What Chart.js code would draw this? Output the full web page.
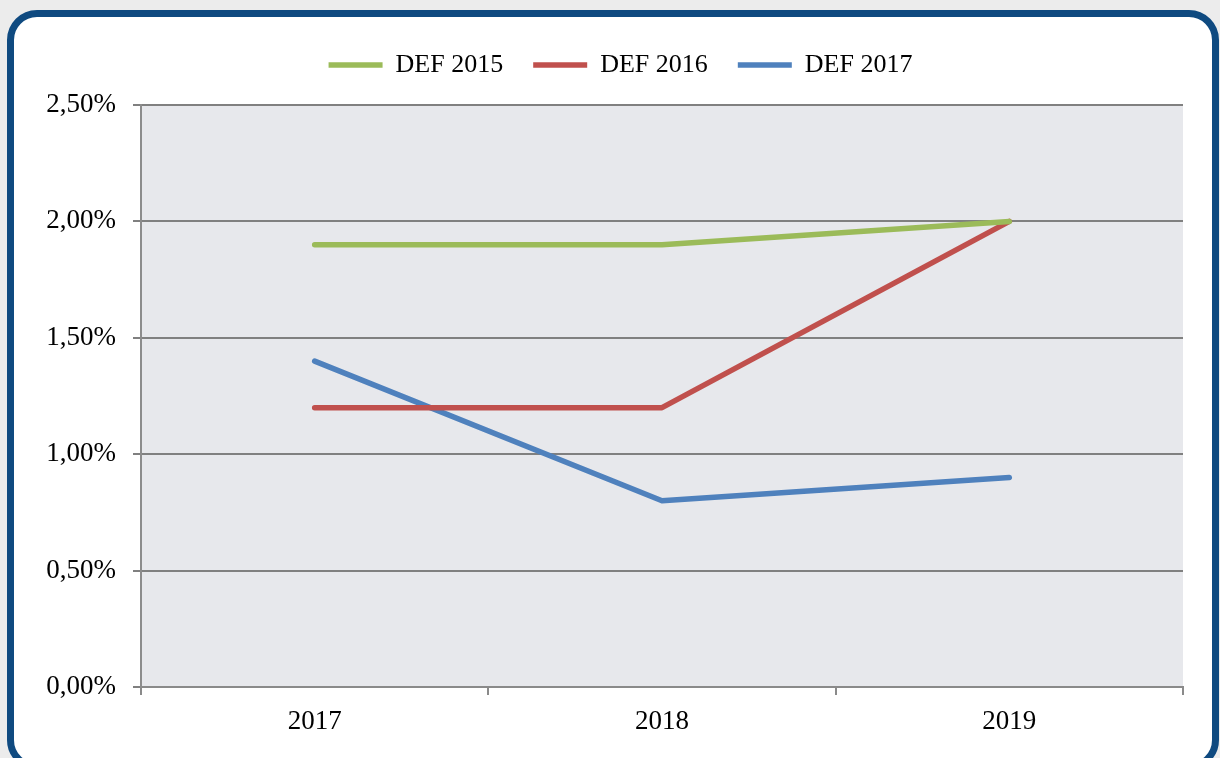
<!DOCTYPE html>
<html>
<head>
<meta charset="utf-8">
<script src="https://cdn.jsdelivr.net/npm/chart.js@4"></script>
<style>
  html, body { margin: 0; padding: 0; }
  body { width: 1220px; height: 758px; overflow: hidden; background: #ececec; position: relative; }
  #frame {
    position: absolute; left: 7px; top: 10px; width: 1212px; height: 760px;
    box-sizing: border-box; border: 7px solid #0f4a80; border-radius: 30px; background: #fff;
  }
  #wrap { position: absolute; left: 0; top: 0; width: 1220px; height: 758px; }
</style>
</head>
<body>
<div id="frame"></div>
<div id="wrap"><canvas id="chart"></canvas></div>
<script>
// dados do gráfico
const categorias = ['2017', '2018', '2019'];
const def2015 = [1.9, 1.9, 2.0];
const def2016 = [1.2, 1.2, 2.0];
const def2017 = [1.4, 0.8, 0.9];
const nomesSeries = ['DEF 2015', 'DEF 2016', 'DEF 2017'];
const coresSeries = ['#9bbb59', '#c0504d', '#4f81bd'];

const fonte = "'Liberation Serif', 'DejaVu Serif', serif";

// pinta o fundo cinza da área do gráfico
const fundoArea = {
    id: 'fundoArea',
    beforeDraw: (chart) => {
        const {ctx, chartArea} = chart;
        ctx.save();
        ctx.fillStyle = '#e7e8ec';
        ctx.fillRect(chartArea.left, chartArea.top, chartArea.right - chartArea.left, chartArea.bottom - chartArea.top);
        ctx.restore();
    }
};

// espaço extra abaixo da legenda e legenda deslocada para a direita
const ajusteLegenda = {
    id: 'ajusteLegenda',
    beforeInit: (chart) => {
        const legenda = chart.legend;
        const fitOriginal = legenda.fit;
        legenda.fit = function () {
            fitOriginal.apply(this, arguments);
            this.height += 17;
        };
        const drawOriginal = legenda.draw;
        legenda.draw = function () {
            const ctx = this.ctx;
            ctx.save();
            ctx.translate(29, 0);
            drawOriginal.apply(this, arguments);
            ctx.restore();
        };
    }
};

function serie(i, dados) {
    return {
        label: nomesSeries[i],
        data: dados,
        borderColor: coresSeries[i],
        backgroundColor: coresSeries[i],
        borderWidth: 5.5,
        borderCapStyle: 'round',
        borderJoinStyle: 'round',
        pointRadius: 0,
        tension: 0
    };
}

new Chart(document.getElementById('chart'), {
    type: 'line',
    data: {
        labels: categorias,
        datasets: [serie(0, def2015), serie(1, def2016), serie(2, def2017)]
    },
    options: {
        responsive: true,
        maintainAspectRatio: false,
        animation: false,
        layout: { padding: { left: 0, right: 37, top: 22, bottom: 0 } },
        plugins: {
            tooltip: { enabled: false },
            legend: {
                position: 'top',
                labels: {
                    usePointStyle: true,
                    pointStyle: 'line',
                    pointStyleWidth: 54,
                    padding: 30,
                    color: '#000',
                    font: { family: fonte, size: 26 }
                }
            }
        },
        scales: {
            x: {
                offset: true,
                grid: {
                    offset: true,
                    drawOnChartArea: false,
                    drawTicks: true,
                    tickLength: 8,
                    color: '#8a8a8a',
                    lineWidth: 2
                },
                border: { color: '#8a8a8a', width: 2 },
                ticks: { color: '#000', padding: 11, font: { family: fonte, size: 27 } },
                afterFit: (scale) => { scale.height = 71; }
            },
            y: {
                min: 0,
                max: 2.5,
                grid: { color: '#808080', lineWidth: 2, tickLength: 8 },
                border: { color: '#8c8c8c', width: 2 },
                ticks: {
                    stepSize: 0.5,
                    color: '#000',
                    padding: 17,
                    font: { family: fonte, size: 27 },
                    callback: (v) => v.toFixed(2).replace('.', ',') + '%'
                },
                afterFit: (scale) => { scale.width = 141; }
            }
        }
    },
    plugins: [fundoArea, ajusteLegenda]
});
</script>
</body>
</html>
